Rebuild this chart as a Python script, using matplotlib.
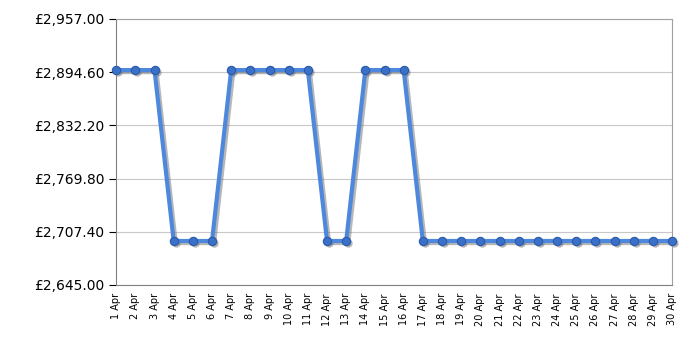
import numpy as np
import matplotlib
matplotlib.use('Agg')
import matplotlib.pyplot as plt
import matplotlib.transforms as mtransforms

days = list(range(1, 31))
day_labels = [f"{d} Apr" for d in days]
high = 2897.0
low = 2696.5
prices = [high, high, high, low, low, low, high, high, high, high, high, low, low,
          high, high, high] + [low] * 14
y_ticks = [2645.00, 2707.40, 2769.80, 2832.20, 2894.60, 2957.00]

fig = plt.figure(figsize=(7, 3.5), dpi=100)
ax = fig.add_axes([0.166, 0.186, 0.794, 0.760])

# drop shadow under the series
shadow_tr = mtransforms.offset_copy(ax.transData, fig=fig, x=1.5, y=-1.5, units='points')
ax.plot(days, prices, color='#606060', alpha=0.45, lw=3, marker='o', ms=6,
        mfc='#606060', mec='none', transform=shadow_tr, zorder=2, clip_on=False)
ax.plot(days, prices, color='#4d88dd', lw=3, marker='o', ms=6,
        mfc='#3a70c8', mec='#2a5aa8', mew=0.8, zorder=3, clip_on=False)

ax.set_xlim(1, 30)
ax.set_ylim(2645, 2957)

ax.set_xticks(days)
ax.set_xticklabels(day_labels, rotation=90, fontsize=7)
ax.set_xticks(days[::3], minor=True)
ax.tick_params(axis='x', which='major', length=0, pad=6)
ax.tick_params(axis='x', which='minor', length=5, color='black')

ax.set_yticks(y_ticks)
ax.set_yticklabels([f"£{v:,.2f}" for v in y_ticks], fontsize=10)
ax.tick_params(axis='y', length=5, color='black')

ax.grid(True, axis='y', color='#c8c8c8', lw=0.8)
ax.grid(True, axis='x', which='minor', color='#c8c8c8', lw=0.8)
for s in ax.spines.values():
    s.set_color('#a0a0a0')
ax.spines['bottom'].set_color('#808080')
ax.spines['left'].set_color('#808080')

fig.savefig('out.png', dpi=100)
